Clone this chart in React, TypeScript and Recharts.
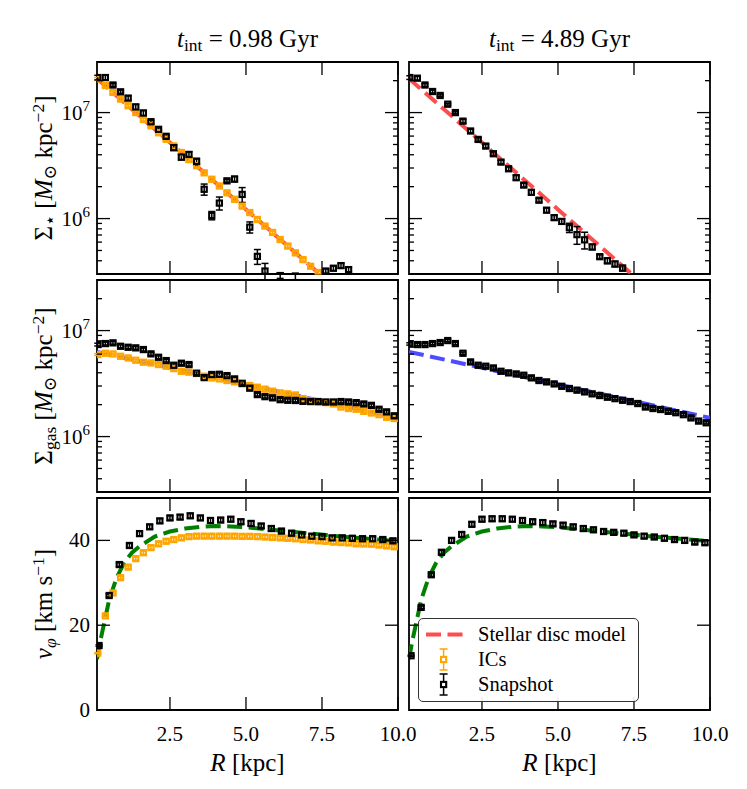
import React from "react";
import {
  ComposedChart,
  Scatter,
  Line,
  XAxis,
  YAxis,
  ErrorBar,
  ReferenceArea,
  Legend,
} from "recharts";

const FONT = '"Liberation Serif", "DejaVu Serif", serif';

// radial bins of the surface density profiles and the ICs rotation curve (kpc)
const rBins = [
  0.125, 0.375, 0.625, 0.875, 1.125, 1.375, 1.625, 1.875, 2.125, 2.375,
  2.625, 2.875, 3.125, 3.375, 3.625, 3.875, 4.125, 4.375, 4.625, 4.875,
  5.125, 5.375, 5.625, 5.875, 6.125, 6.375, 6.625, 6.875, 7.125, 7.375,
  7.625, 7.875, 8.125, 8.375, 8.625, 8.875, 9.125, 9.375, 9.625, 9.875,
];
// radial bins of the snapshot rotation curve (kpc)
const rVel = [
  0.167, 0.5, 0.833, 1.167, 1.5, 1.833, 2.167, 2.5, 2.833, 3.167, 3.5, 3.833,
  4.167, 4.5, 4.833, 5.167, 5.5, 5.833, 6.167, 6.5, 6.833, 7.167, 7.5, 7.833,
  8.167, 8.5, 8.833, 9.167, 9.5, 9.833,
];

const xTicks = [2.5, 5, 7.5, 10];
const densTicks = [
  4e5, 5e5, 6e5, 7e5, 8e5, 9e5, 1e6, 2e6, 3e6, 4e6, 5e6, 6e6, 7e6, 8e6, 9e6,
  1e7, 2e7,
];
const velTicks = [0, 20, 40];

// stellar surface density, M_sun kpc^-2
const starIcs = [
  2.08e7, 1.8e7, 1.55e7, 1.34e7, 1.16e7, 1.0e7, 8.6e6, 7.5e6, 6.45e6, 5.6e6,
  4.85e6, 4.2e6, 3.6e6, 3.15e6, 2.7e6, 2.35e6, 2.03e6, 1.75e6, 1.52e6, 1.31e6,
  1.14e6, 9.8e5, 8.5e5, 7.4e5, 6.35e5, 5.5e5, 4.75e5, 4.1e5, 3.55e5, 3.1e5,
  null, null, null, null, null, null, null, null, null, null,
];
const starSnapEarly = [
  2.14e7, 2.14e7, 1.82e7, 1.57e7, 1.37e7, 1.13e7, 9.9e6, 8.2e6, 6.95e6, 5.97e6,
  4.67e6, 3.8e6, 4.03e6, 3.46e6, 1.89e6, 1.07e6, 1.4e6, 2.27e6, 2.36e6, 1.69e6,
  8.3e5, 4.4e5, 3.2e5, null, 2.9e5, null, 2.85e5, null, null, null,
  3.2e5, 3.4e5, 3.6e5, 3.3e5, null, null, null, null, null, null,
];
const starSnapEarlyErr = [
  5, 5, 3, 3, 5, 6, 6, 3, 3, 3, 6, 6, 6, 7, 12, 9, 14, 3, 6, 16,
  12, 16, 18, 0, 6, 0, 7, 0, 0, 0, 5, 5, 5, 5, 0, 0, 0, 0, 0, 0,
];
const starSnapLate = [
  2.14e7, 2.11e7, 1.82e7, 1.58e7, 1.45e7, 1.2e7, 1.0e7, 8.3e6, 6.7e6, 5.58e6,
  4.83e6, 4.09e6, 3.41e6, 2.95e6, 2.43e6, 2.07e6, 1.77e6, 1.49e6, 1.2e6, 1.02e6,
  9.4e5, 8.2e5, 7.06e5, 6.3e5, 5.4e5, 4.37e5, 4.0e5, 3.73e5, 3.41e5, null,
  null, null, null, null, null, null, null, null, null, null,
];
const starSnapLateErr = [
  4, 4, 3, 3, 2, 2, 2, 4, 4, 4, 4, 4, 4, 4, 5, 4, 5, 4, 5, 5,
  6, 10, 19, 18, 6, 4, 6, 6, 6, 0, 0, 0, 0, 0, 0, 0, 0, 0, 0, 0,
];
const starModelR = [0.1, 2.5, 5, 7.5, 10];
const starModel = [2.09e7, 5.21e6, 1.22e6, 2.87e5, 6.73e4];

// gas surface density, M_sun kpc^-2
const gasIcs = [
  5.94e6, 6.11e6, 6.02e6, 5.72e6, 5.52e6, 5.25e6, 5.03e6, 4.95e6, 4.78e6, 4.61e6,
  4.38e6, 4.13e6, 4.05e6, 3.93e6, 3.71e6, 3.58e6, 3.5e6, 3.38e6, 3.28e6, 3.14e6,
  3.03e6, 2.92e6, 2.8e6, 2.68e6, 2.58e6, 2.53e6, 2.47e6, 2.28e6, 2.19e6, 2.12e6,
  2.09e6, 2.03e6, 1.9e6, 1.84e6, 1.81e6, 1.73e6, 1.67e6, 1.61e6, 1.52e6, 1.48e6,
];
const gasSnapEarly = [
  7.38e6, 7.54e6, 7.66e6, 7.11e6, 6.96e6, 6.87e6, 6.62e6, 6.03e6, 5.6e6, 5.21e6,
  4.71e6, 4.92e6, 4.78e6, 3.96e6, 3.6e6, 3.85e6, 3.87e6, 3.76e6, 3.5e6, 3.18e6,
  2.86e6, 2.49e6, 2.38e6, 2.32e6, 2.23e6, 2.2e6, 2.19e6, 2.15e6, 2.14e6, 2.14e6,
  2.12e6, 2.12e6, 2.14e6, 2.12e6, 2.09e6, 2.03e6, 1.97e6, 1.81e6, 1.71e6, 1.57e6,
];
const gasSnapLate = [
  7.48e6, 7.38e6, 7.38e6, 7.54e6, 7.71e6, 8.05e6, 7.54e6, 6.11e6, 5.06e6, 4.71e6,
  4.61e6, 4.44e6, 4.13e6, 3.99e6, 3.9e6, 3.79e6, 3.58e6, 3.38e6, 3.28e6, 3.14e6,
  2.98e6, 2.84e6, 2.74e6, 2.64e6, 2.53e6, 2.44e6, 2.35e6, 2.28e6, 2.2e6, 2.14e6,
  2.05e6, 1.9e6, 1.84e6, 1.8e6, 1.73e6, 1.68e6, 1.61e6, 1.5e6, 1.4e6, 1.35e6,
];
const gasModelR = [0.1, 5, 10];
const gasModel = [6.3e6, 3.1e6, 1.5e6];

// rotation velocity, km/s
const velIcs = [
  13.4, 22.2, 27.6, 31.2, 33.7, 35.7, 37.1, 38.3, 39.2, 39.8,
  40.2, 40.6, 40.9, 41.0, 41.0, 41.0, 41.0, 41.0, 41.0, 40.95,
  40.95, 40.9, 40.8, 40.7, 40.6, 40.5, 40.4, 40.2, 40.1, 39.9,
  39.8, 39.6, 39.5, 39.4, 39.2, 39.15, 39.1, 38.9, 38.7, 38.5,
];
const velSnapEarly = [
  15.2, 27.0, 34.3, 38.8, 41.6, 43.2, 44.6, 45.3, 45.5, 45.8,
  45.3, 44.7, 44.8, 45.0, 44.4, 44.0, 43.4, 42.8, 42.2, 41.7,
  41.3, 41.0, 40.9, 40.6, 40.6, 40.5, 40.4, 40.4, 40.2, 39.9,
];
const velSnapLate = [
  12.8, 24.2, 31.9, 37.2, 40.0, 41.4, 43.8, 45.0, 45.1, 45.1,
  45.0, 44.7, 44.4, 44.2, 43.9, 43.6, 43.2, 42.8, 42.5, 42.1,
  41.9, 41.7, 41.3, 41.0, 40.8, 40.5, 40.2, 40.0, 39.6, 39.45,
];
const velModelR = [0.1, 0.2, 0.3, 0.5, 0.75, 1.0, 1.25, 1.5, 2.0, 2.5, 3.0, 3.5, 4.0, 4.5, 5.0, 6.0, 7.0, 8.0, 9.0, 10.0];
const velModel = [12.0, 16.0, 19.3, 26.0, 31.3, 34.8, 37.1, 38.6, 40.9, 42.1, 42.8, 43.2, 43.4, 43.3, 43.1, 42.4, 41.7, 41.0, 40.4, 39.8];

const legendItems = [
  { label: "Stellar disc model", kind: "line", color: "#ff4d4d" },
  { label: "ICs", kind: "err", color: "#ffa500" },
  { label: "Snapshot", kind: "err", color: "#000000" },
];

// layout
const COL_X = [97, 409];
const ROW_Y = [62, 280, 498];
const PLOT_W = 301;
const PLOT_H = 212;
const PAD_L = 80;
const PAD_R = 26;
const PAD_T = 4;
const PAD_B = 44;
const TICK_MAJOR = 13;
const TICK_MINOR = 5;
const TICK_W = 1.3;

type Pt = { R: number; v: number; err: number };

function toPoints(rs: number[], vals: (number | null)[], errPct: number | number[]): Pt[] {
  const out: Pt[] = [];
  rs.forEach((R, i) => {
    const v = vals[i];
    if (v == null) return;
    const pct = Array.isArray(errPct) ? errPct[i] : errPct;
    out.push({ R, v, err: (v * pct) / 100 });
  });
  return out;
}

function toLine(rs: number[], vals: number[]) {
  return rs.map((R, i) => ({ R, v: vals[i] }));
}

const squareShape = (color: string) => (props: any) => {
  const { cx, cy } = props;
  if (cx == null || cy == null) return <g />;
  return (
    <rect x={cx - 2.6} y={cy - 2.6} width={5.2} height={5.2} fill="none" stroke={color} strokeWidth={2.1} />
  );
};

const xTickFactory = (showLabel: boolean) => (props: any) => {
  const { x, y, payload } = props;
  return (
    <g>
      <line x1={x} x2={x} y1={y} y2={y - TICK_MAJOR} stroke="#000" strokeWidth={TICK_W} />
      <line x1={x} x2={x} y1={y - PLOT_H} y2={y - PLOT_H + TICK_MAJOR} stroke="#000" strokeWidth={TICK_W} />
      {showLabel ? (
        <text x={x} y={y + 31} textAnchor="middle" fontSize={21} fontFamily={FONT} fill="#000">
          {Number(payload.value).toFixed(1)}
        </text>
      ) : null}
    </g>
  );
};

const yTickFactory = (kind: "log" | "lin", showLabel: boolean) => (props: any) => {
  const { x, y, payload } = props;
  const value = Number(payload.value);
  let major = true;
  let label: React.ReactNode = String(value);
  if (kind === "log") {
    const e = Math.log10(value);
    major = Math.abs(e - Math.round(e)) < 1e-6;
    label = (
      <>
        10<tspan dy={-9} fontSize={15}>{Math.round(e)}</tspan>
      </>
    );
  }
  const len = major ? TICK_MAJOR : TICK_MINOR;
  const xr = x + PLOT_W;
  return (
    <g>
      <line x1={x} x2={x + len} y1={y} y2={y} stroke="#000" strokeWidth={TICK_W} />
      <line x1={xr - len} x2={xr} y1={y} y2={y} stroke="#000" strokeWidth={TICK_W} />
      {showLabel && major ? (
        <text x={x - 7} y={y + 7} textAnchor="end" fontSize={21} fontFamily={FONT} fill="#000">
          {label}
        </text>
      ) : null}
    </g>
  );
};

function LegendBox() {
  return (
    <div
      style={{
        border: "1.4px solid #333",
        borderRadius: 5,
        background: "rgba(255,255,255,0.92)",
        padding: "3px 12px 4px 6px",
        fontFamily: FONT,
        fontSize: 20.5,
        lineHeight: "25px",
        whiteSpace: "nowrap",
      }}
    >
      {legendItems.map((item) => (
        <div key={item.label} style={{ display: "flex", alignItems: "center", height: 25 }}>
          <svg width={48} height={25}>
            {item.kind === "line" ? (
              <line x1={1} x2={38} y1={12.5} y2={12.5} stroke={item.color} strokeWidth={4} strokeDasharray="15 6.5" />
            ) : (
              <g stroke={item.color} strokeWidth={1.5}>
                <line x1={18.6} x2={18.6} y1={2} y2={23} />
                <line x1={14.6} x2={22.6} y1={2} y2={2} />
                <line x1={14.6} x2={22.6} y1={23} y2={23} />
                <rect x={16} y={9.9} width={5.2} height={5.2} fill="#fff" strokeWidth={2.1} />
              </g>
            )}
          </svg>
          <span style={{ marginLeft: 5 }}>{item.label}</span>
        </div>
      ))}
    </div>
  );
}

type PanelProps = {
  col: number;
  row: number;
  kind: "log" | "lin";
  yDomain: [number, number];
  yTicks: number[];
  model: { R: number; v: number }[];
  modelColor: string;
  ics?: Pt[];
  snap: Pt[];
  legend?: boolean;
};

function Panel({ col, row, kind, yDomain, yTicks, model, modelColor, ics, snap, legend }: PanelProps) {
  const showY = col === 0;
  const showX = row === 2;
  return (
    <div style={{ position: "absolute", left: COL_X[col] - PAD_L, top: ROW_Y[row] - PAD_T }}>
      <ComposedChart
        width={PAD_L + PLOT_W + PAD_R}
        height={PAD_T + PLOT_H + PAD_B}
        margin={{ top: PAD_T, right: PAD_R, bottom: 0, left: 0 }}
      >
        <XAxis
          type="number"
          dataKey="R"
          domain={[0.1, 10]}
          allowDataOverflow
          ticks={xTicks}
          interval={0}
          height={PAD_B}
          axisLine={false}
          tickLine={false}
          tickSize={0}
          tickMargin={0}
          tick={xTickFactory(showX)}
        />
        <YAxis
          type="number"
          dataKey="v"
          scale={kind === "log" ? "log" : "linear"}
          domain={yDomain}
          allowDataOverflow
          ticks={yTicks}
          interval={0}
          width={PAD_L}
          axisLine={false}
          tickLine={false}
          tickSize={0}
          tickMargin={0}
          tick={yTickFactory(kind, showY)}
        />
        <ReferenceArea
          x1={0.1}
          x2={10}
          y1={yDomain[0]}
          y2={yDomain[1]}
          fill="none"
          fillOpacity={0}
          stroke="#000"
          strokeWidth={1.8}
        />
        <Line
          data={model}
          dataKey="v"
          stroke={modelColor}
          strokeWidth={4}
          strokeDasharray="15 6.5"
          dot={false}
          activeDot={false}
          isAnimationActive={false}
        />
        {ics ? (
          <Scatter data={ics} shape={squareShape("#ffa500")} isAnimationActive={false}>
            <ErrorBar dataKey="err" direction="y" width={3.5} stroke="#ffa500" strokeWidth={1.5} isAnimationActive={false} />
          </Scatter>
        ) : null}
        <Scatter data={snap} shape={squareShape("#000")} isAnimationActive={false}>
          <ErrorBar dataKey="err" direction="y" width={3.5} stroke="#000" strokeWidth={1.5} isAnimationActive={false} />
        </Scatter>
        {legend ? (
          <Legend
            layout="horizontal"
            verticalAlign="middle"
            align="center"
            wrapperStyle={{ left: 89, top: 124, width: "auto", height: "auto" }}
            content={() => <LegendBox />}
          />
        ) : null}
      </ComposedChart>
    </div>
  );
}

const DENS_DOMAIN: [number, number] = [3e5, 3e7];
const VEL_DOMAIN: [number, number] = [0, 50];

export default function App() {
  const colCenters = COL_X.map((x) => x + PLOT_W / 2);
  const rowCenters = ROW_Y.map((y) => y + PLOT_H / 2);
  const label: React.CSSProperties = {
    position: "absolute",
    whiteSpace: "nowrap",
    fontSize: 25,
    lineHeight: 1,
  };
  const sub: React.CSSProperties = { fontSize: "0.7em", verticalAlign: "-0.25em" };
  const sup: React.CSSProperties = { fontSize: "0.7em", verticalAlign: "0.45em" };
  return (
    <div
      style={{
        position: "absolute",
        left: 0,
        top: 0,
        width: 747,
        height: 789,
        background: "#fff",
        fontFamily: FONT,
        color: "#000",
      }}
    >
      <Panel col={0} row={0} kind="log" yDomain={DENS_DOMAIN} yTicks={densTicks}
        model={toLine(starModelR, starModel)} modelColor="#ff4d4d"
        ics={toPoints(rBins, starIcs, 3)} snap={toPoints(rBins, starSnapEarly, starSnapEarlyErr)} />
      <Panel col={1} row={0} kind="log" yDomain={DENS_DOMAIN} yTicks={densTicks}
        model={toLine(starModelR, starModel)} modelColor="#ff4d4d"
        snap={toPoints(rBins, starSnapLate, starSnapLateErr)} />
      <Panel col={0} row={1} kind="log" yDomain={DENS_DOMAIN} yTicks={densTicks}
        model={toLine(gasModelR, gasModel)} modelColor="#4d4dff"
        ics={toPoints(rBins, gasIcs, 2)} snap={toPoints(rBins, gasSnapEarly, 3)} />
      <Panel col={1} row={1} kind="log" yDomain={DENS_DOMAIN} yTicks={densTicks}
        model={toLine(gasModelR, gasModel)} modelColor="#4d4dff"
        snap={toPoints(rBins, gasSnapLate, 2.5)} />
      <Panel col={0} row={2} kind="lin" yDomain={VEL_DOMAIN} yTicks={velTicks}
        model={toLine(velModelR, velModel)} modelColor="#008000"
        ics={toPoints(rBins, velIcs, 1)} snap={toPoints(rVel, velSnapEarly, 1.2)} />
      <Panel col={1} row={2} kind="lin" yDomain={VEL_DOMAIN} yTicks={velTicks}
        model={toLine(velModelR, velModel)} modelColor="#008000"
        snap={toPoints(rVel, velSnapLate, 1.2)} legend />

      <div style={{ ...label, left: colCenters[0], top: 40, transform: "translate(-50%,-50%)" }}>
        <i>t</i><span style={sub}>int</span> = 0.98 Gyr
      </div>
      <div style={{ ...label, left: colCenters[1], top: 40, transform: "translate(-50%,-50%)" }}>
        <i>t</i><span style={sub}>int</span> = 4.89 Gyr
      </div>

      <div style={{ ...label, left: 45, top: rowCenters[0], transform: "translate(-50%,-50%) rotate(-90deg)" }}>
        Σ<span style={sub}>⋆</span> [<i>M</i><span style={sub}>⊙</span> kpc<span style={sup}>−2</span>]
      </div>
      <div style={{ ...label, left: 45, top: rowCenters[1], transform: "translate(-50%,-50%) rotate(-90deg)" }}>
        Σ<span style={sub}>gas</span> [<i>M</i><span style={sub}>⊙</span> kpc<span style={sup}>−2</span>]
      </div>
      <div style={{ ...label, left: 45, top: rowCenters[2], transform: "translate(-50%,-50%) rotate(-90deg)" }}>
        <i>v</i><span style={sub}><i>φ</i></span> [km s<span style={sup}>−1</span>]
      </div>

      {colCenters.map((cx) => (
        <div key={cx} style={{ ...label, left: cx, top: 762, transform: "translate(-50%,-50%)" }}>
          <i>R</i> [kpc]
        </div>
      ))}
    </div>
  );
}
